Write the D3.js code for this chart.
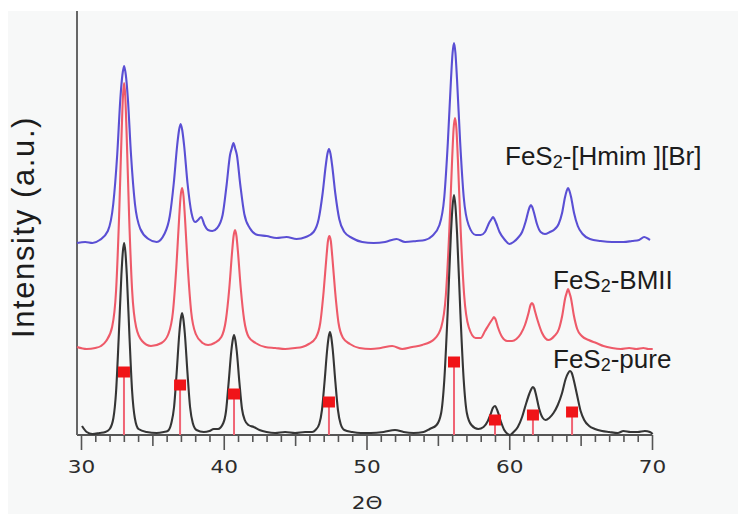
<!DOCTYPE html>
<html lang="en">
<head>
  <meta charset="UTF-8" />
  <title>FeS2 XRD patterns</title>
  <script src="https://d3js.org/d3.v7.min.js"></script>
  <style>
    body { margin: 0; background: #fff; }
    svg { display: block; }
    .lbl { font-family: "Liberation Sans", Arial, sans-serif; fill: #1c1c1c; }
    .tick text { font-family: "DejaVu Sans", sans-serif; fill: #2c2c2c; }
  </style>
</head>
<body>
<svg id="chart" width="738" height="514"></svg>
<script>
// ---------- data (2-theta in degrees, intensity in a.u.) ----------
const hmimPattern = [
  [29.72,192],[30.3,193],[30.8,192],[31.31,195],[31.88,204],[32.26,231],[32.54,281],[32.76,337],[32.9,360],[33.02,369],
  [33.14,360],[33.28,337],[33.5,281],[33.78,231],[34.16,206],[34.73,196],[35.3,193],[35.84,201],[36.22,219],[36.5,252],
  [36.74,290],[36.87,305],[36.98,311],[37.09,305],[37.22,290],[37.46,252],[37.74,222],[38.0,213],[38.2,215],[38.42,218],
  [38.65,210],[38.9,205],[39.2,204],[39.54,207],[39.92,220],[40.2,250],[40.44,280],[40.57,287],[40.68,292],[40.79,287],
  [40.92,280],[41.16,250],[41.44,221],[41.82,207],[42.39,200],[43.0,199],[43.7,197],[44.4,198],[45.1,196],[45.75,198],
  [46.29,203],[46.65,216],[46.92,241],[47.15,270],[47.26,281],[47.37,286],[47.48,281],[47.59,270],[47.82,241],[48.09,216],
  [48.45,203],[48.99,197],[49.7,193],[50.5,192],[51.3,193],[52.1,196],[52.7,193],[53.5,194],[54.1,195],[54.6,199],
  [55.11,210],[55.45,238],[55.7,293],[55.92,356],[56.03,382],[56.13,392],[56.23,382],[56.34,356],[56.56,293],[56.81,238],
  [57.15,210],[57.66,200],[58.0,200],[58.3,203],[58.62,213],[58.76,216],[58.86,218],[58.96,216],[59.08,212],[59.32,203],
  [59.7,195],[60.0,191],[60.3,193],[60.6,197],[60.9,203],[61.14,213],[61.34,224],[61.43,228],[61.52,230],[61.61,228],
  [61.72,223],[61.94,211],[62.2,203],[62.5,201],[62.85,203],[63.2,206],[63.46,211],[63.7,222],[63.91,238],[64.02,244],
  [64.12,247],[64.22,244],[64.33,238],[64.54,222],[64.8,209],[65.14,201],[65.65,196],[66.4,194],[67.2,193],[68.0,193],
  [68.6,194],[69.1,195],[69.45,198],[69.75,196],[69.86,195]
];
const bmiiPattern = [
  [29.72,88],[30.4,86],[31.0,87],[31.4,89],[31.76,94],[32.18,108],[32.46,145],[32.67,219],[32.85,304],[32.94,339],
  [33.02,352],[33.1,339],[33.19,304],[33.37,219],[33.58,145],[33.86,108],[34.28,94],[34.9,89],[35.64,92],[36.12,101],
  [36.44,123],[36.68,168],[36.88,218],[36.98,239],[37.08,247],[37.18,239],[37.28,218],[37.48,168],[37.72,123],[38.04,101],
  [38.52,92],[38.9,90],[39.35,92],[39.83,98],[40.15,115],[40.39,147],[40.59,184],[40.69,199],[40.79,205],[40.89,199],
  [40.99,184],[41.19,147],[41.43,115],[41.75,98],[42.23,92],[42.9,88],[43.6,87],[44.3,86],[45.0,87],[45.5,88],
  [45.96,91],[46.44,97],[46.76,112],[47.0,144],[47.2,179],[47.3,194],[47.4,199],[47.5,194],[47.6,179],[47.8,144],
  [48.04,112],[48.36,97],[48.84,91],[49.5,87],[50.3,86],[51.0,87],[51.8,89],[52.5,86],[53.2,88],[53.9,90],
  [54.76,96],[55.24,108],[55.56,140],[55.8,204],[56.0,276],[56.1,306],[56.2,317],[56.3,306],[56.4,276],[56.6,204],
  [56.84,140],[57.16,108],[57.64,97],[58.0,97],[58.3,104],[58.6,111],[58.83,116],[58.93,118],[59.03,116],[59.2,108],
  [59.5,98],[59.85,94],[60.2,94],[60.5,96],[60.8,101],[61.1,110],[61.35,122],[61.49,130],[61.59,132],[61.69,130],
  [61.8,124],[62.0,114],[62.3,102],[62.75,95],[63.16,99],[63.48,106],[63.72,120],[63.92,137],[64.02,142],[64.12,146],
  [64.22,142],[64.32,137],[64.52,120],[64.76,106],[65.08,99],[65.56,95],[66.1,92],[66.6,89],[67.2,87],[67.8,86],
  [68.4,87],[68.9,86],[69.4,87],[69.75,86],[70.05,86]
];
const purePattern = [
  [30.07,9],[30.4,3],[30.8,1],[31.3,2],[31.7,3],[32.01,6],[32.27,17],[32.46,44],[32.64,97],[32.83,160],
  [32.93,183],[33.02,192],[33.11,183],[33.21,160],[33.4,97],[33.58,44],[33.77,17],[34.03,6],[34.6,3],[35.3,2],
  [35.8,3],[36.07,4],[36.33,12],[36.52,28],[36.7,62],[36.89,102],[36.99,116],[37.08,122],[37.17,116],[37.27,102],
  [37.46,62],[37.64,28],[37.83,12],[38.09,5],[38.6,3],[39.0,4],[39.3,6],[39.6,6],[39.97,12],[40.16,24],
  [40.34,52],[40.53,84],[40.63,95],[40.72,100],[40.81,95],[40.91,84],[41.1,52],[41.28,26],[41.47,15],[41.73,10],
  [42.1,8],[42.5,5],[43.0,3],[43.6,2],[44.3,3],[45.0,2],[45.7,3],[46.2,3],[46.43,5],[46.69,11],
  [46.88,25],[47.06,53],[47.25,86],[47.35,98],[47.44,103],[47.53,98],[47.63,86],[47.82,53],[48.0,25],[48.19,11],
  [48.45,5],[49.0,3],[49.6,2],[50.3,2],[51.2,3],[52.0,5],[52.6,3],[53.3,2],[54.0,3],[54.43,6],
  [54.91,10],[55.23,22],[55.45,55],[55.68,121],[55.91,200],[56.03,229],[56.13,240],[56.23,229],[56.35,200],[56.58,121],
  [56.81,55],[57.03,22],[57.35,10],[57.83,6],[58.2,8],[58.5,14],[58.7,21],[58.85,27],[59.0,29],[59.18,24],
  [59.4,14],[59.65,5],[59.9,1],[60.05,0],[60.3,3],[60.6,8],[60.9,18],[61.15,30],[61.4,41],[61.55,46],
  [61.66,48],[61.77,46],[61.88,40],[62.1,26],[62.35,17],[62.55,15],[62.8,17],[63.1,22],[63.4,30],[63.7,42],
  [63.95,56],[64.13,62],[64.26,64],[64.38,62],[64.5,56],[64.75,40],[65.0,24],[65.25,15],[65.6,9],[66.0,6],
  [66.5,4],[67.0,3],[67.6,2],[68.0,4],[68.5,3],[69.0,3],[69.5,4],[69.85,3],[70.05,1]
];

// reference (stick) pattern
const refPos = [33.01, 36.94, 40.72, 47.37, 56.13, 59.0, 61.66, 64.4];
const refInt = [63, 50, 41, 33, 73, 15, 20, 23];

const majorTicks = [30, 40, 50, 60, 70];
const minorTicks = d3.range(30, 71, 1);

const seriesNames = ["FeS2-[Hmim ][Br]", "FeS2-BMII", "FeS2-pure"];
const seriesColors = ["#5a4fd4", "#ee5a69", "#353535"];

// ---------- layout ----------
const svg = d3.select("#chart");
const x = d3.scaleLinear().domain([30, 70]).range([81, 652]);
const y = d3.scaleLinear().domain([0, 424]).range([435, 11]);
const xStart = 29.72;

svg.append("rect").attr("x", 8).attr("y", 11).attr("width", 730).attr("height", 503).attr("fill", "#f7f8f8");

// x ticks (minor / mid / major)
const gMinor = svg.append("g").attr("transform", "translate(0,435)")
  .call(d3.axisBottom(x).tickValues(minorTicks).tickSize(7).tickFormat(""));
gMinor.selectAll(".tick line")
  .attr("y2", d => d % 10 === 0 ? 15 : d % 5 === 0 ? 11 : 7)
  .attr("stroke", "#555").attr("stroke-width", 1.6);
gMinor.select(".domain").remove();

const gMajor = svg.append("g").attr("transform", "translate(0,435)")
  .call(d3.axisBottom(x).tickValues(majorTicks).tickSize(15).tickPadding(10));
gMajor.select(".domain").remove();
gMajor.selectAll(".tick line").remove();
// wide, rounded digits as in the original figure
gMajor.selectAll(".tick text").attr("font-size", 18).attr("transform", "scale(1.2,1)");

// axis lines
svg.append("line").attr("x1", x(xStart)).attr("x2", x(70)).attr("y1", y(0)).attr("y2", y(0))
  .attr("stroke", "#555").attr("stroke-width", 2);
svg.append("line").attr("x1", x(xStart)).attr("x2", x(xStart)).attr("y1", y(0)).attr("y2", y(424))
  .attr("stroke", "#666").attr("stroke-width", 2);

// curves
const line = d3.line().x(d => x(d[0])).y(d => y(d[1])).curve(d3.curveMonotoneX);
[hmimPattern, bmiiPattern, purePattern].forEach((pat, i) => {
  svg.append("path").datum(pat).attr("d", line)
    .attr("fill", "none").attr("stroke", seriesColors[i]).attr("stroke-width", 2.1)
    .attr("stroke-linejoin", "round");
});

// reference sticks
const refs = refPos.map((p, i) => ({ p, v: refInt[i] }));
svg.append("g").selectAll("line").data(refs).join("line")
  .attr("x1", d => x(d.p)).attr("x2", d => x(d.p))
  .attr("y1", y(0)).attr("y2", d => y(d.v))
  .attr("stroke", "#f06474").attr("stroke-width", 2);
svg.append("g").selectAll("rect").data(refs).join("rect")
  .attr("x", d => x(d.p) - 6).attr("y", d => y(d.v) - 5.5)
  .attr("width", 12).attr("height", 11).attr("fill", "#f01418");

// series labels (with subscript 2)
const labelPos = [[505, 165], [553, 289], [553, 368]];
seriesNames.forEach((name, i) => {
  const t = svg.append("text").attr("class", "lbl").attr("x", labelPos[i][0]).attr("y", labelPos[i][1])
    .attr("font-size", 26);
  t.append("tspan").text("FeS");
  t.append("tspan").attr("font-size", 18).attr("dy", 3).text("2");
  t.append("tspan").attr("dy", -3).text(name.slice(4));
});

// axis titles
svg.append("text").attr("class", "lbl")
  .attr("transform", "translate(34,227) rotate(-90)")
  .attr("text-anchor", "middle").attr("font-size", 31).attr("letter-spacing", 1.6)
  .attr("fill", "#2a2a2a").text("Intensity (a.u.)");
svg.append("text").attr("transform", "translate(367,509) scale(1.2,1)").attr("text-anchor", "middle")
  .attr("font-family", "DejaVu Sans, sans-serif").attr("font-size", 18)
  .attr("fill", "#2a2a2a").text("2Θ");
</script>
</body>
</html>
